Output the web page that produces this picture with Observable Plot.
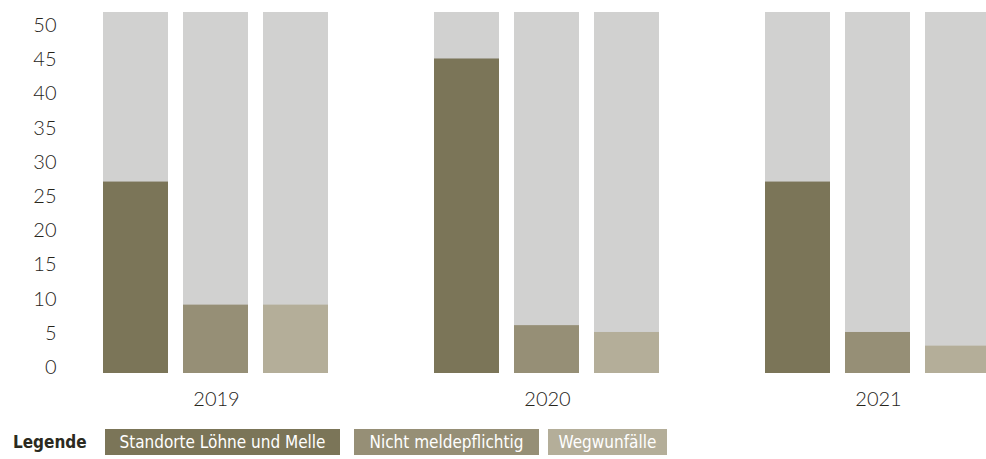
<!DOCTYPE html>
<html><head><meta charset="utf-8">
<script src="https://cdn.jsdelivr.net/npm/d3@7"></script>
<script src="https://cdn.jsdelivr.net/npm/@observablehq/plot@0.6"></script>
<style>
html,body{margin:0;padding:0;overflow:hidden;background:#fff;width:986px;height:459px}
#chart{width:1000px;height:415px}
#chart svg{display:block;max-width:none !important;width:1000px;height:415px}
.legend{display:flex;align-items:center;height:26px;margin-top:14px;font-family:"DejaVu Sans",sans-serif;font-stretch:condensed;font-size:17px;white-space:nowrap}
.legend span{flex-shrink:0}
.legend .title{width:105px;box-sizing:border-box;padding-left:13px;font-weight:bold;color:#2b2a20}
.legend .box{height:26px;line-height:26px;color:#fff;text-align:center;box-sizing:border-box}
</style></head><body>
<div id="chart"></div>
<div class="legend" id="legend"></div>
<script>
const years = ["2019", "2020", "2021"];
const series = ["Standorte Löhne und Melle", "Nicht meldepflichtig", "Wegwunfälle"];
const standorte = [28, 46, 28];
const nichtMeldepflichtig = [10, 7, 6];
const wegeunfaelle = [10, 6, 4];
const scaleMax = 52.8;
const yTicks = [0, 5, 10, 15, 20, 25, 30, 35, 40, 45, 50];
const colors = ["#7b7558", "#968f76", "#b4ae99"];
const bgColor = "#d1d1d0";
const legendTitle = "Legende";

const seriesValues = [standorte, nichtMeldepflichtig, wegeunfaelle];
const data = [];
const bg = [];
years.forEach((year, i) => {
  series.forEach((s, j) => {
    data.push({year, series: s, value: seriesValues[j][i]});
    bg.push({year, series: s, value: scaleMax});
  });
});

const chart = Plot.plot({
  width: 1000,
  height: 415,
  marginTop: 12,
  marginBottom: 42,
  marginLeft: 101,
  marginRight: 8,
  style: {fontFamily: "Lato, sans-serif", fontSize: "20px", fontWeight: 300, color: "#26241a", background: "#fff", maxWidth: "none"},
  fx: {domain: years, paddingInner: 0.312, paddingOuter: 0, label: null, axis: null},
  x: {domain: series, paddingInner: 0.185, paddingOuter: 0, axis: null},
  y: {domain: [0, scaleMax], axis: null},
  color: {domain: series, range: colors},
  marks: [
    Plot.barY(bg, {fx: "year", x: "series", y: "value", fill: bgColor}),
    Plot.barY(data, {fx: "year", x: "series", y: "value", fill: "series"}),
    Plot.axisY({ticks: yTicks, tickSize: 0, tickPadding: 46, dy: -6, label: null, fontSize: 20, fill: "#26241a"}),
    Plot.axisFx({anchor: "bottom", tickSize: 0, tickPadding: 18, label: null, fontSize: 20, fill: "#26241a"})
  ]
});
document.getElementById("chart").appendChild(chart);

const legend = document.getElementById("legend");
const t = document.createElement("span");
t.className = "title";
t.textContent = legendTitle;
legend.appendChild(t);
const widths = [235, 185, 119];
const gaps = [14, 9, 0];
series.forEach((s, j) => {
  const b = document.createElement("span");
  b.className = "box";
  b.style.background = colors[j];
  b.style.width = widths[j] + "px";
  b.style.marginRight = gaps[j] + "px";
  b.textContent = s;
  legend.appendChild(b);
});
</script>
</body></html>
